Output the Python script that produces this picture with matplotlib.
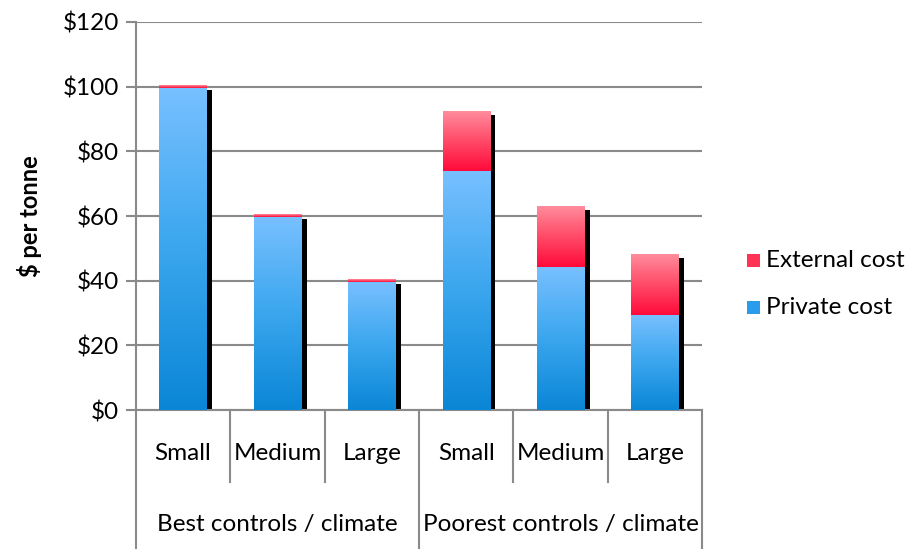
import numpy as np
import matplotlib.pyplot as plt
from matplotlib.colors import LinearSegmentedColormap
from matplotlib.patches import Rectangle
import matplotlib.transforms as mtransforms

plt.rcParams['font.family'] = ['Lato', 'DejaVu Sans']

sizes = ['Small', 'Medium', 'Large', 'Small', 'Medium', 'Large']
groups = ['Best controls / climate', 'Poorest controls / climate']
private_cost = [99.6, 59.6, 39.6, 74.0, 44.2, 29.4]
external_cost = [0.7, 0.8, 0.7, 18.5, 18.8, 18.8]
yticks = [0, 20, 40, 60, 80, 100, 120]

blue_cmap = LinearSegmentedColormap.from_list('b', ['#0a86d6', '#3aa6ee', '#78c0ff'])
red_cmap = LinearSegmentedColormap.from_list('r', ['#ff0a3a', '#ff4a68', '#ff8c9c'])
grad = np.linspace(0, 1, 256).reshape(-1, 1)
fs = 17.5

fig = plt.figure(figsize=(9.06, 5.49), dpi=100)
ax = fig.add_axes([0.150, 0.253, 0.625, 0.707])

width = 0.5
x = np.arange(len(sizes))
sx = 0.058   # shadow offset
for i in x:
    p, e = private_cost[i], external_cost[i]
    top = p + e
    ax.add_patch(Rectangle((i - width / 2 + sx, 0), width, top - 1.2,
                           facecolor='black', edgecolor='none', zorder=2))
    ax.imshow(grad, extent=[i - width / 2, i + width / 2, 0, p], origin='lower',
              cmap=blue_cmap, aspect='auto', zorder=3)
    ax.imshow(grad, extent=[i - width / 2, i + width / 2, p, top], origin='lower',
              cmap=red_cmap, aspect='auto', zorder=3)

ax.set_xlim(-0.5, 5.5)
ax.set_ylim(0, 120)
ax.set_yticks(yticks)
ax.set_yticklabels(['$' + str(v) for v in yticks], fontsize=fs)
ax.yaxis.grid(True, color='#8a8a8a', linewidth=1.5)
ax.set_axisbelow(True)
ax.tick_params(axis='y', length=7, width=1.5, color='#8a8a8a', pad=5)
ax.set_xticks([])
for s in ['top', 'right']:
    ax.spines[s].set_visible(False)
ax.spines['left'].set_color('#8a8a8a')
ax.spines['left'].set_linewidth(1.5)
ax.spines['bottom'].set_color('#8a8a8a')
ax.spines['bottom'].set_linewidth(1.5)
ax.set_ylabel('$ per tonne', fontsize=17, fontweight='bold')
ax.yaxis.set_label_coords(-0.166, 0.5)

trans = mtransforms.blended_transform_factory(ax.transData, ax.transAxes)
for xs in [0.5, 1.5, 3.5, 4.5]:
    ax.plot([xs, xs], [0, -0.186], color='#8a8a8a', lw=1.5, transform=trans, clip_on=False)
for xs in [-0.5, 2.5, 5.5]:
    ax.plot([xs, xs], [0, -0.36], color='#8a8a8a', lw=1.5, transform=trans, clip_on=False)
for i, s in enumerate(sizes):
    ax.text(i, -0.111, s, transform=trans, ha='center', va='center', fontsize=fs)
for j, g in enumerate(groups):
    ax.text(1 + 3 * j, -0.296, g, transform=trans, ha='center', va='center', fontsize=fs)

# legend
fig.patches.append(Rectangle((0.825, 0.514), 0.014, 0.024, transform=fig.transFigure,
                             facecolor='#ff3355', edgecolor='none'))
fig.patches.append(Rectangle((0.825, 0.428), 0.014, 0.024, transform=fig.transFigure,
                             facecolor='#2a9cec', edgecolor='none'))
fig.text(0.845, 0.526, 'External cost', fontsize=fs, va='center')
fig.text(0.845, 0.440, 'Private cost', fontsize=fs, va='center')

fig.savefig('out.png', dpi=100)
